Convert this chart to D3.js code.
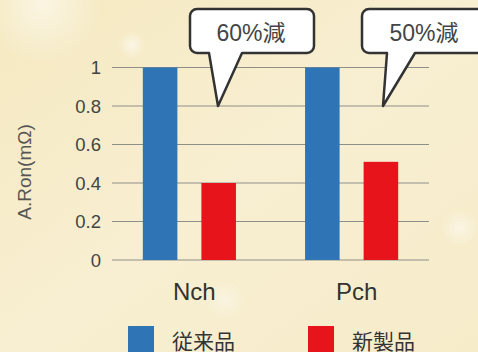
<!DOCTYPE html>
<html>
<head>
<meta charset="utf-8">
<script src="https://cdn.jsdelivr.net/npm/d3@7"></script>
<style>
  html, body { margin: 0; padding: 0; }
  body { width: 478px; height: 352px; overflow: hidden; }
  text { font-family: "Liberation Sans", Arial, "Noto Sans CJK JP", sans-serif; }
</style>
</head>
<body>
<div id="chart"></div>
<script>
// data
const categories = ["Nch", "Pch"];
const seriesNames = ["従来品", "新製品"];
const oldValues = [1.0, 1.0];
const newValues = [0.4, 0.51];
const yTicks = [0, 0.2, 0.4, 0.6, 0.8, 1];
const calloutLabels = ["60%減", "50%減"];
const calloutTipValue = 0.8;

const width = 478, height = 352;
const colors = ["#2f74b5", "#e8141c"];

let svg = d3.select("#chart").append("svg")
    .attr("width", width)
    .attr("height", height);

// background
let defs = svg.append("defs");
let bg = defs.append("linearGradient").attr("id", "bg")
    .attr("x1", "0").attr("y1", "0").attr("x2", "1").attr("y2", "1");
bg.append("stop").attr("offset", "0").attr("stop-color", "#f5e9c0");
bg.append("stop").attr("offset", "0.5").attr("stop-color", "#f8efd2");
bg.append("stop").attr("offset", "1").attr("stop-color", "#f6ecca");
let glow = defs.append("radialGradient").attr("id", "glow");
glow.append("stop").attr("offset", "0").attr("stop-color", "#ffffff").attr("stop-opacity", 0.9);
glow.append("stop").attr("offset", "1").attr("stop-color", "#ffffff").attr("stop-opacity", 0);

svg.append("rect").attr("width", width).attr("height", height).attr("fill", "url(#bg)");
svg.append("circle").attr("cx", 42).attr("cy", 4).attr("r", 60).attr("fill", "url(#glow)").attr("opacity", 0.6);
svg.append("circle").attr("cx", 132).attr("cy", 45).attr("r", 14).attr("fill", "url(#glow)").attr("opacity", 0.6);
svg.append("circle").attr("cx", 460).attr("cy", 228).attr("r", 18).attr("fill", "url(#glow)").attr("opacity", 0.5);
svg.append("circle").attr("cx", 225).attr("cy", 300).attr("r", 20).attr("fill", "url(#glow)").attr("opacity", 0.4);

// scales
let y = d3.scaleLinear().domain([0, 1]).range([260, 67.5]);
let x0 = d3.scaleBand().domain(categories).range([112, 429])
    .paddingInner(0.426).paddingOuter(0.19);
let x1 = d3.scaleBand().domain([0, 1]).range([0, x0.bandwidth()]).paddingInner(0.41);

// gridlines
svg.append("g").selectAll("line")
    .data(yTicks)
    .join("line")
    .attr("x1", 112).attr("x2", 429)
    .attr("y1", d => y(d)).attr("y2", d => y(d))
    .attr("stroke", "#8f8f8a").attr("stroke-width", 1.2);

// y tick labels
svg.append("g").selectAll("text")
    .data(yTicks)
    .join("text")
    .attr("x", 101).attr("y", d => y(d))
    .attr("dy", "0.36em")
    .attr("text-anchor", "end")
    .attr("font-size", 18.5)
    .attr("fill", "#444")
    .text(d => d);

// y axis title
svg.append("text")
    .attr("transform", "translate(31,172) rotate(-90)")
    .attr("text-anchor", "middle")
    .attr("font-size", 19)
    .attr("fill", "#555")
    .text("A.Ron(mΩ)");

// bars
let barData = [];
categories.forEach((c, i) => {
    barData.push({cat: c, s: 0, v: oldValues[i]});
    barData.push({cat: c, s: 1, v: newValues[i]});
});
svg.append("g").selectAll("rect")
    .data(barData)
    .join("rect")
    .attr("x", d => x0(d.cat) + x1(d.s))
    .attr("y", d => y(d.v))
    .attr("width", x1.bandwidth())
    .attr("height", d => y(0) - y(d.v))
    .attr("fill", d => colors[d.s]);

// category labels
svg.append("g").selectAll("text")
    .data(categories)
    .join("text")
    .attr("x", d => x0(d) + x0.bandwidth() / 2 + 5)
    .attr("y", 300)
    .attr("text-anchor", "middle")
    .attr("font-size", 24)
    .attr("fill", "#333")
    .text(d => d);

// callouts
let boxes = [
    {x: 190, w: 124, tipX: 218, b1: 209, b2: 242, tx: 251},
    {x: 362, w: 124, tipX: 383, b1: 387, b2: 415, tx: 424}
];
boxes.forEach((b, i) => {
    let top = 9, bot = 53, r = 7, tipY = y(calloutTipValue);
    let p = d3.path();
    p.moveTo(b.x + r, top);
    p.lineTo(b.x + b.w - r, top);
    p.arcTo(b.x + b.w, top, b.x + b.w, top + r, r);
    p.lineTo(b.x + b.w, bot - r);
    p.arcTo(b.x + b.w, bot, b.x + b.w - r, bot, r);
    p.lineTo(b.b2, bot);
    p.lineTo(b.tipX, tipY);
    p.lineTo(b.b1, bot);
    p.lineTo(b.x + r, bot);
    p.arcTo(b.x, bot, b.x, bot - r, r);
    p.lineTo(b.x, top + r);
    p.arcTo(b.x, top, b.x + r, top, r);
    p.closePath();
    svg.append("path")
        .attr("d", p.toString())
        .attr("fill", "#fff")
        .attr("stroke", "#333")
        .attr("stroke-width", 2.5)
        .attr("stroke-linejoin", "round");
    svg.append("text")
        .attr("x", b.tx)
        .attr("y", 41)
        .attr("text-anchor", "middle")
        .attr("font-size", 23)
        .attr("fill", "#444")
        .text(calloutLabels[i]);
});

// legend
let legendX = [128, 308];
seriesNames.forEach((name, i) => {
    svg.append("rect")
        .attr("x", legendX[i]).attr("y", 326)
        .attr("width", 26).attr("height", 30)
        .attr("fill", colors[i]);
    svg.append("text")
        .attr("x", legendX[i] + 44).attr("y", 349)
        .attr("font-size", 21)
        .attr("fill", "#333")
        .text(name);
});
</script>
</body>
</html>
